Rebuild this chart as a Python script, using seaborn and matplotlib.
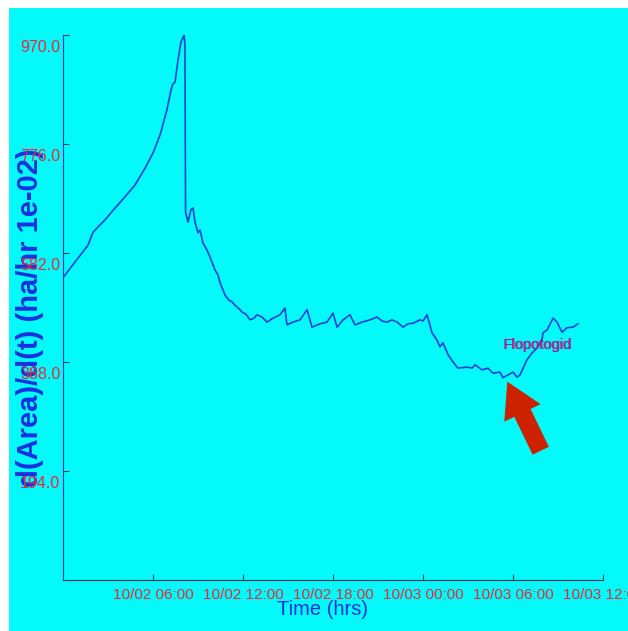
import numpy as np
import pandas as pd
import matplotlib
matplotlib.use("Agg")
import matplotlib.pyplot as plt
import matplotlib.transforms as mtransforms
from matplotlib.patches import Rectangle
import seaborn as sns

# ---- data (hours since 10/02 00:00, d(Area)/d(t) in ha/hr x1e-02) ----
hours = [0.00, 0.80, 1.67, 2.00, 2.80, 3.47, 4.13, 4.80, 5.47, 6.00, 6.47, 6.93,
         7.20, 7.33, 7.47, 7.67, 7.87, 8.00, 8.07, 8.13, 8.17, 8.33, 8.53, 8.67,
         8.80, 9.00, 9.13, 9.33, 9.60, 9.80, 10.00, 10.13, 10.33, 10.47, 10.67,
         10.80, 11.07, 11.27, 11.47, 11.60, 11.80, 11.93, 12.20, 12.47, 12.73,
         12.93, 13.27, 13.60, 14.00, 14.47, 14.80, 14.93, 15.33, 15.80, 16.27,
         16.60, 17.13, 17.60, 18.00, 18.27, 18.67, 19.13, 19.47, 19.93, 20.47,
         20.93, 21.27, 21.60, 21.93, 22.27, 22.67, 23.00, 23.33, 23.80, 24.00,
         24.27, 24.60, 24.93, 25.13, 25.33, 25.67, 26.00, 26.33, 26.93, 27.27,
         27.47, 27.93, 28.33, 28.67, 29.13, 29.33, 29.67, 30.00, 30.27, 30.47,
         30.93, 31.27, 31.60, 31.93, 32.00, 32.27, 32.67, 32.93, 33.27, 33.60,
         34.00, 34.33]
rate = [538, 566, 596, 619, 641, 662, 682, 703, 733, 760, 792, 837,
        872, 883, 886, 926, 958, 965, 970, 952, 655, 637, 659, 662,
        637, 618, 623, 600, 587, 575, 561, 552, 543, 529, 516,
        507, 498, 495, 489, 486, 481, 477, 473, 463, 466,
        472, 468, 459, 466, 472, 484, 454, 459, 463, 481,
        450, 456, 459, 475, 450, 463, 472, 454, 459, 463,
        468, 461, 459, 463, 459, 450, 456, 457, 463, 461,
        472, 440, 427, 415, 422, 401, 388, 377, 379, 377,
        383, 374, 377, 368, 370, 360, 365, 370, 361, 365,
        392, 404, 413, 427, 440, 445, 466, 459, 441, 449,
        450, 456]

y_ticks = [194, 388, 582, 776, 970]
y_tick_labels = ["194.0", "388.0", "582.0", "776.0", "970.0"]
x_ticks = [6, 12, 18, 24, 30, 36]
x_tick_labels = ["10/02 06:00", "10/02 12:00", "10/02 18:00",
                 "10/03 00:00", "10/03 06:00", "10/03 12:00"]
y_title = "d(Area)/d(t) (ha/hr 1e-02)"
x_title = "Time (hrs)"
note_text = "Flopotogid"
note_pos = (31.67, 418)
arrow_tip = (29.62, 353)
arrow_tail = (31.85, 230)

CYAN = "#02fafa"
RED = "#e8283c"
BLUE = "#1a30e0"
LINE = "#2140d8"
FAM = ["Liberation Sans", "DejaVu Sans"]

fig = plt.figure(figsize=(6.28, 6.31), dpi=100, facecolor="white")
fig.add_artist(Rectangle((9 / 628, 0), 1 - 9 / 628, 1 - 8 / 631,
                         transform=fig.transFigure, facecolor=CYAN,
                         edgecolor="none", zorder=0))
ax = fig.add_axes([63 / 628, 1 - 580 / 631, 540 / 628, 545 / 631])
ax.set_facecolor(CYAN)

df = pd.DataFrame({"hours": hours, "rate": rate})
sns.lineplot(data=df, x="hours", y="rate", ax=ax, sort=False, estimator=None,
             color=LINE, linewidth=1.2)

ax.set_xlim(0, 36)
ax.set_ylim(0, 970)
ax.set_xticks(x_ticks)
ax.set_xticklabels(x_tick_labels)
ax.set_yticks(y_ticks)
ax.set_yticklabels(y_tick_labels)

for sp in ["top", "right"]:
    ax.spines[sp].set_visible(False)
ax.spines["left"].set_color("#2030c0")
ax.spines["bottom"].set_color("#303050")

ax.tick_params(axis="both", direction="in", length=4, color="#404060",
               labelcolor=RED)
ax.tick_params(axis="x", pad=6)
ax.tick_params(axis="y", pad=2)
for lab in ax.get_xticklabels():
    lab.set_fontfamily(FAM)
    lab.set_fontsize(11)
off = mtransforms.ScaledTranslation(0, -11 / 100, fig.dpi_scale_trans)
for tick in ax.yaxis.get_major_ticks():
    tick.label1.set_fontfamily(FAM)
    tick.label1.set_fontsize(11.5)
    tick.label1.set_transform(tick.label1.get_transform() + off)

ax.set_xlabel(x_title, fontsize=14.5, color=BLUE, family=FAM, va="center")
ax.xaxis.set_label_coords(0.48, -0.055)
ax.set_ylabel("")
# y title drawn beneath the red tick labels, as in the reference
ax.text(-0.061, 0.482, y_title, transform=ax.transAxes, rotation=90,
        fontsize=21, fontweight="bold", color=BLUE, family=FAM,
        ha="center", va="center", clip_on=False, zorder=0.5)

# annotation text (red/blue fringe)
sh = mtransforms.ScaledTranslation(-1 / 100, 0, fig.dpi_scale_trans)
ax.text(*note_pos, note_text, color="#e02850", fontsize=10.5, family=FAM,
        ha="center", va="center", transform=ax.transData + sh)
ax.text(*note_pos, note_text, color="#7020c0", fontsize=10.5, family=FAM,
        ha="center", va="center", alpha=0.85)

ax.annotate("", xy=arrow_tip, xytext=arrow_tail,
            arrowprops=dict(arrowstyle="simple,head_length=1.25,head_width=1.45,tail_width=0.65",
                            mutation_scale=20, color="#cc2200", shrinkA=0,
                            shrinkB=0, lw=0))

fig.savefig("out.png", dpi=100, facecolor="white")
